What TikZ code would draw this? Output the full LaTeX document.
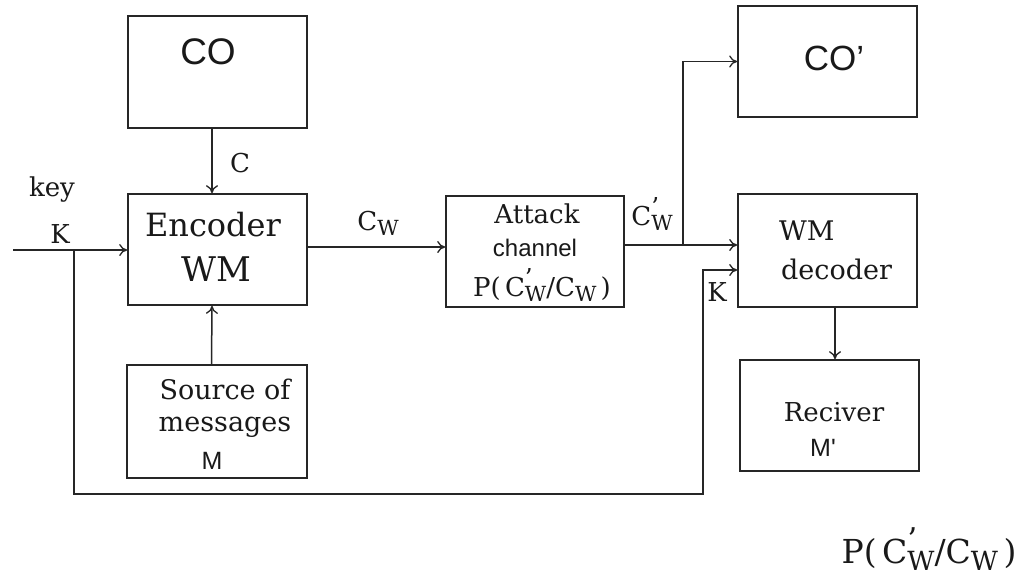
\documentclass[tikz,border=0pt]{standalone}
\usepackage{fontspec}
\setmainfont{DejaVu Serif}
\newfontfamily\arialf{Liberation Sans}
\usetikzlibrary{arrows.meta}
\newcommand\Cpw{C\rlap{\raisebox{0.38em}{\scalebox{0.95}{’}}}\raisebox{-0.2em}{\scalebox{0.8}{W}}}
\newcommand\Cwl{C\raisebox{-0.2em}{\scalebox{0.8}{W}}}
\newcommand\fs[1]{\fontsize{#1}{#1}\selectfont}
\tikzset{
  box/.style={draw=black!85, line width=1.7pt, inner sep=0pt, minimum width=179pt, minimum height=112pt},
  arr/.style={draw=black!85, line width=1.5pt, -{To[length=8pt,width=12pt,line width=1.3pt]}},
  ln/.style={draw=black!85, line width=1.5pt},
  txt/.style={inner sep=0pt, anchor=center, text=black!90},
  sans/.style={font=\arialf}
}
\begin{document}
\begin{tikzpicture}[x=1pt,y=-1pt]
\useasboundingbox[fill=white] (0,0) rectangle (1030,579);
% boxes
\node[box] (co)  at (217.5,72)   [minimum height=112pt] {};
\node[box] (enc) at (217.5,249.5)[minimum height=111pt] {};
\node[box, minimum width=180pt] (src) at (217,421.5) [minimum height=113pt] {};
\node[box, minimum width=178pt] (att) at (535,251.5) [minimum height=111pt] {};
\node[box] (cop) at (827.5,61.5) [minimum height=111pt] {};
\node[box] (dec) at (827.5,250.5)[minimum height=113pt] {};
\node[box] (rec) at (829.5,415.5)[minimum height=111pt] {};
% texts in boxes
\node[txt, font=\arialf\fs{37}] (tco) at (208,52) {CO};
\node[txt, font=\arialf\fs{35}] (tcop) at (834,58) {CO’};
\node[txt, font=\fs{32}] (tenc1) at (213,225) {Encoder};
\node[txt, font=\fs{34}] (tenc2) at (216,269) {WM};
\node[txt, font=\fs{26}] (tatt1) at (537,214) {Attack};
\node[txt, font=\arialf\fs{24}] (tatt2) at (535,248) {channel};
\node[txt, font=\fs{26}] (tatt3) at (542,285) {P(\,\Cpw/\Cwl\,)};
\node[txt, font=\fs{27}, anchor=west] (tdec1) at (779,231) {WM};
\node[txt, font=\fs{27}, anchor=west] (tdec2) at (781,269) {decoder};
\node[txt, font=\fs{27}] (tsrc1) at (225,389) {Source of};
\node[txt, font=\fs{27}] (tsrc2) at (225,427) {messages};
\node[txt, font=\arialf\fs{25}] (tsrc3) at (212,461) {M};
\node[txt, font=\fs{26}] (trec1) at (834,412) {Reciver};
\node[txt, font=\arialf\fs{25}] (trec2) at (823,448) {M'};
% labels
\node[txt, font=\fs{26}] (lkey) at (52,190) {key};
\node[txt, font=\fs{26}] (lk) at (60,234) {K};
\node[txt, font=\fs{26}] (lc) at (240,163) {C};
\node[txt, font=\fs{26}] (lcw) at (378,223) {\Cwl};
\node[txt, font=\fs{26}] (lcpw) at (652,214) {\Cpw};
\node[txt, font=\fs{26}] (lk2) at (717,292) {K};
\node[txt, font=\fs{33}] (lp) at (929,549) {P(\,\Cpw/\Cwl\,)};
% coordinates
\coordinate (kin) at (13,250);
\coordinate (kb) at (74,250);
\coordinate (kd) at (703,270);
\coordinate (e1) at (307,247);
\coordinate (j1) at (683,245);
% connectors
\draw[arr] ([xshift=-5.5pt]co.south) -- ([xshift=-5.5pt]enc.north);
\draw[arr] ([xshift=-5.5pt]src.north) -- ([xshift=-5.5pt]enc.south);
\draw[arr] (kin) -- (enc.west |- kin);
\draw[arr] (kb) -- ++(0,244) -| (kd) -- (dec.west |- kd);
\draw[arr] (enc.east |- e1) -- (att.west |- e1);
\draw[ln] (att.east |- j1) -- (j1);
\draw[arr] (j1) -- (dec.west |- j1);
\draw[arr] (j1) |- (cop.west);
\draw[arr] ([xshift=7.5pt]dec.south) -- ([xshift=7.5pt]dec.south |- rec.north);
\end{tikzpicture}
\end{document}
